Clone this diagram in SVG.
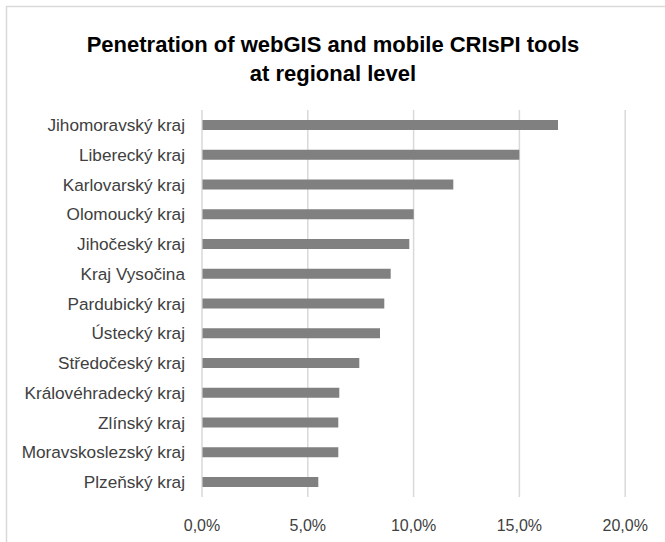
<svg xmlns="http://www.w3.org/2000/svg" width="665" height="542" viewBox="0 0 665 542">
<style>
.title{font-family:"Liberation Sans",Arial,sans-serif;font-weight:bold;font-size:22px;fill:#000;text-anchor:middle}
.lbl{font-family:"Liberation Sans",Arial,sans-serif;font-size:17.2px;fill:#404040;text-anchor:end}
.tick{font-family:"Liberation Sans",Arial,sans-serif;font-size:16px;fill:#404040;text-anchor:middle}
.grid{stroke:#d9d9d9;stroke-width:1.5}
.bar{fill:#808080}
.frame{stroke:#d9d9d9;stroke-width:1.5;fill:none}
</style>
<rect x="0" y="0" width="665" height="542" fill="#ffffff"/>
<path class="frame" d="M6.5,542 V6.5 H665"/>
<g id="title">
<text class="title" x="333" y="52">Penetration of webGIS and mobile CRIsPI tools</text>
<text class="title" x="333" y="81">at regional level</text>
</g>
<g id="gridlines">
<line class="grid" x1="202" y1="110" x2="202" y2="497"/>
<line class="grid" x1="307.8" y1="110" x2="307.8" y2="497"/>
<line class="grid" x1="413.6" y1="110" x2="413.6" y2="497"/>
<line class="grid" x1="519.4" y1="110" x2="519.4" y2="497"/>
<line class="grid" x1="625.2" y1="110" x2="625.2" y2="497"/>
</g>
<g id="bars">
<rect class="bar" x="202.5" y="120" width="355.5" height="10"/>
<rect class="bar" x="202.5" y="149.75" width="316.8" height="10"/>
<rect class="bar" x="202.5" y="179.5" width="250.8" height="10"/>
<rect class="bar" x="202.5" y="209.25" width="211.2" height="10"/>
<rect class="bar" x="202.5" y="239" width="206.8" height="10"/>
<rect class="bar" x="202.5" y="268.75" width="188.2" height="10"/>
<rect class="bar" x="202.5" y="298.5" width="181.8" height="10"/>
<rect class="bar" x="202.5" y="328.25" width="177.5" height="10"/>
<rect class="bar" x="202.5" y="358" width="156.8" height="10"/>
<rect class="bar" x="202.5" y="387.75" width="136.8" height="10"/>
<rect class="bar" x="202.5" y="417.5" width="135.8" height="10"/>
<rect class="bar" x="202.5" y="447.25" width="135.8" height="10"/>
<rect class="bar" x="202.5" y="477" width="115.8" height="10"/>
</g>
<g id="category-labels">
<text class="lbl" x="185" y="131">Jihomoravský kraj</text>
<text class="lbl" x="185" y="160.75">Liberecký kraj</text>
<text class="lbl" x="185" y="190.5">Karlovarský kraj</text>
<text class="lbl" x="185" y="220.25">Olomoucký kraj</text>
<text class="lbl" x="185" y="250">Jihočeský kraj</text>
<text class="lbl" x="185" y="279.75">Kraj Vysočina</text>
<text class="lbl" x="185" y="309.5">Pardubický kraj</text>
<text class="lbl" x="185" y="339.25">Ústecký kraj</text>
<text class="lbl" x="185" y="369">Středočeský kraj</text>
<text class="lbl" x="185" y="398.75">Královéhradecký kraj</text>
<text class="lbl" x="185" y="428.5">Zlínský kraj</text>
<text class="lbl" x="185" y="458.25">Moravskoslezský kraj</text>
<text class="lbl" x="185" y="488">Plzeňský kraj</text>
</g>
<g id="axis-labels">
<text class="tick" x="202" y="531">0,0%</text>
<text class="tick" x="307.8" y="531">5,0%</text>
<text class="tick" x="413.6" y="531">10,0%</text>
<text class="tick" x="519.4" y="531">15,0%</text>
<text class="tick" x="625.2" y="531">20,0%</text>
</g>
</svg>
